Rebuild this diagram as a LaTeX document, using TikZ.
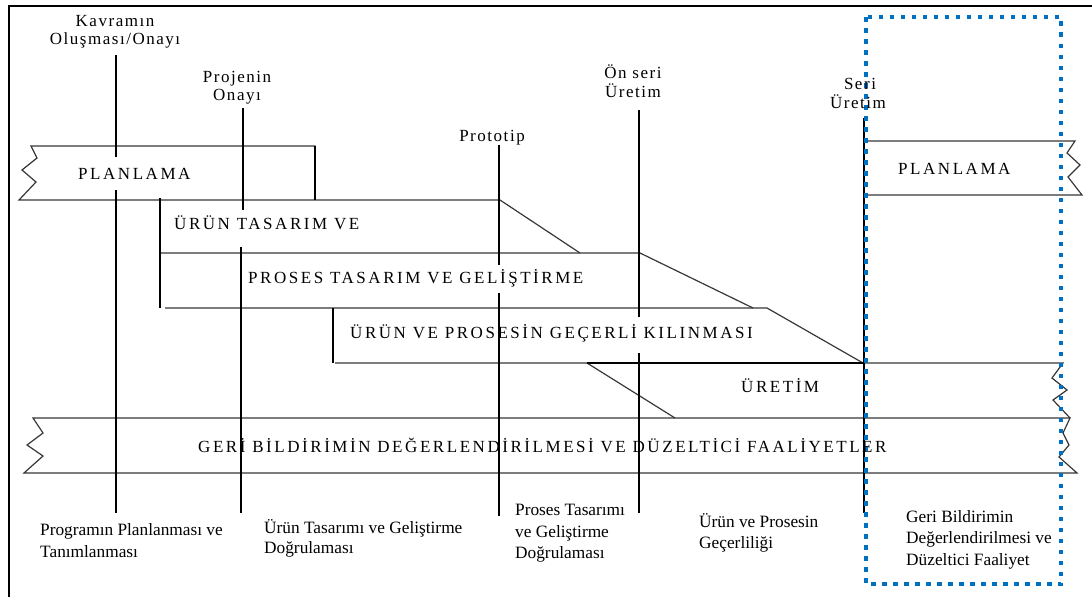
\documentclass[tikz,border=0pt]{standalone}
\usepackage{fontspec}
\setmainfont{Liberation Serif}
\newfontfamily\bandfont[LetterSpace=15]{Liberation Serif}
\newfontfamily\tagfont[LetterSpace=9]{Liberation Serif}
\definecolor{bandgray}{RGB}{55,55,55}
\definecolor{wordblue}{RGB}{0,112,192}
\begin{document}
\begin{tikzpicture}[x=1pt,y=-1pt,
  frame/.style={line width=2.2, black},
  band/.style={draw=bandgray, line width=1.2, line join=miter},
  edge/.style={line width=2, black},
  milestone/.style={line width=2.2, black},
  dotbox/.style={draw=wordblue, line width=4.5, dash pattern=on 4.5 off 6.5},
  tag/.style={anchor=base, inner sep=0, font=\tagfont\fontsize{17}{18}\selectfont},
  bandlabel/.style={anchor=base west, inner sep=0, font=\bandfont\fontsize{17}{20}\selectfont},
  note/.style={anchor=base west, inner sep=0, font=\fontsize{17.3}{21}\selectfont}]
\useasboundingbox (0,0) rectangle (1092,597);

% outer frame (left and top edges only)
\draw[frame] (9,597) -- (9,6) -- (1092,6);

% phase bands
\draw[band] (315,200) -- (315,146) -- (31,146) -- (37,158) -- (22,170) -- (36,182) -- (19,200)
  -- (500,200) -- (580,253);
\draw[band] (160,253) -- (640,253) -- (753,308);
\draw[band] (165,308) -- (767,308) -- (863,363);
\draw[band] (335,363) -- (1063,363) -- (1052,378) -- (1067,390) -- (1053,400) -- (1070,418);
\draw[band] (587,363) -- (675,418);
\draw[band] (33,418) -- (1070,418) -- (1063,433) -- (1069,445) -- (1059,457) -- (1077,473)
  -- (24,473) -- (43,456) -- (27,445) -- (43,433) -- cycle;
\draw[band] (866,141) -- (1075,141) -- (1067,153) -- (1080,165) -- (1068,177) -- (1082,195) -- (866,195);

% heavier band edges
\draw[edge] (315,146) -- (315,200);
\draw[edge] (160,198) -- (160,308);
\draw[edge] (333,308) -- (333,363);
\draw[edge] (587,363) -- (863,363);

% milestone lines
\coordinate (m1a) at (116,55);  \coordinate (m1b) at (116,157);
\coordinate (m1c) at (116,190); \coordinate (m1d) at (116,513);
\coordinate (m2a) at (243,108); \coordinate (m2b) at (243,210);
\coordinate (m2c) at (241,247); \coordinate (m2d) at (241,513);
\coordinate (m3a) at (499,145); \coordinate (m3b) at (499,265);
\coordinate (m3c) at (499,293); \coordinate (m3d) at (499,516);
\coordinate (m4a) at (639,110); \coordinate (m4b) at (639,317);
\coordinate (m4c) at (639,353); \coordinate (m4d) at (639,513);
\coordinate (m5a) at (864,118); \coordinate (m5d) at (864,513);
\draw[milestone] (m1a) -- (m1b) (m1c) -- (m1d);
\draw[milestone] (m2a) -- (m2b) (m2c) -- (m2d);
\draw[milestone] (m3a) -- (m3b) (m3c) -- (m3d);
\draw[milestone] (m4a) -- (m4b) (m4c) -- (m4d);
\draw[milestone] (m5a) -- (m5d);

% highlighted column
\draw[dotbox] (866,17) rectangle (1061,584);

% milestone captions
\node[tag] (k1) at (115,26) {Kavramın};
\node[tag] (k2) at (115,44) {Oluşması/Onayı};
\node[tag] (p1) at (237,82) {Projenin};
\node[tag] (p2) at (237,100) {Onayı};
\node[tag] (pt) at (492,141) {Prototip};
\node[tag] (o1) at (633,78) {Ön seri};
\node[tag] (o2) at (633,97) {Üretim};
\node[tag] (s1) at (860,89) {Seri};
\node[tag] (s2) at (858,108) {Üretim};

% band labels
\node[bandlabel] (b1) at (78,179) {PLANLAMA};
\node[bandlabel] (b2) at (174,229) {ÜRÜN TASARIM VE};
\node[bandlabel] (b3) at (248,283) {PROSES TASARIM VE GELİŞTİRME};
\node[bandlabel] (b4) at (350,338) {ÜRÜN VE PROSESİN GEÇERLİ KILINMASI};
\node[bandlabel] (b5) at (741,392) {ÜRETİM};
\node[bandlabel] (b6) at (198,452) {GERİ BİLDİRİMİN DEĞERLENDİRİLMESİ VE DÜZELTİCİ FAALİYETLER};
\node[bandlabel] (b7) at (898,174.5) {PLANLAMA};

% phase outcomes
\node[note] (n1a) at (40,535) {Programın Planlanması ve};
\node[note] (n1b) at (40,557) {Tanımlanması};
\node[note] (n2a) at (264,533) {Ürün Tasarımı ve Geliştirme};
\node[note] (n2b) at (264,553) {Doğrulaması};
\node[note] (n3a) at (515,515) {Proses Tasarımı};
\node[note] (n3b) at (515,537) {ve Geliştirme};
\node[note] (n3c) at (515,558) {Doğrulaması};
\node[note] (n4a) at (699,527) {Ürün ve Prosesin};
\node[note] (n4b) at (699,548) {Geçerliliği};
\node[note] (n5a) at (906,522) {Geri Bildirimin};
\node[note] (n5b) at (906,543) {Değerlendirilmesi ve};
\node[note] (n5c) at (906,565) {Düzeltici Faaliyet};
\end{tikzpicture}
\end{document}
